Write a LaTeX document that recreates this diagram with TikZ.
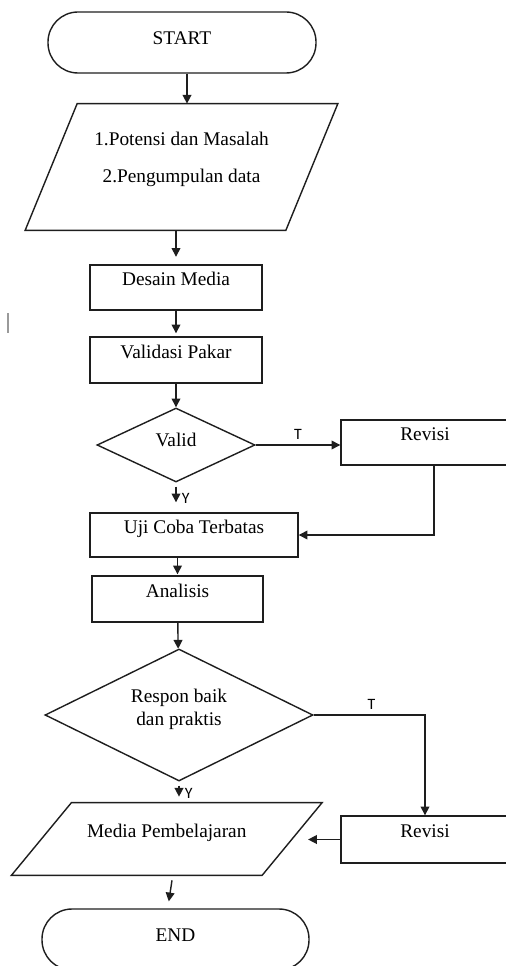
\documentclass[tikz,border=0pt]{standalone}
\usepackage{fontspec}
\setmainfont{Liberation Serif}
\newfontfamily\lblfont{Carlito}
\usepackage{tikz}
\usetikzlibrary{arrows.meta,shapes.geometric,calc}
\definecolor{fline}{HTML}{1E1E1E}
\definecolor{fmark}{HTML}{9A9A9A}
\tikzset{
  procbox/.style={draw=fline,line width=0.8pt,minimum height=0.9cm,
                  text height=0.7em,text depth=0.9em,inner sep=2pt},
  termbox/.style={draw=fline,line width=0.8pt,rounded corners=0.6cm,
                  minimum height=1.22cm,text height=0.7em,text depth=0.5em},
  decbox/.style={draw=fline,line width=0.8pt,diamond,aspect=2,inner sep=0pt},
  iobox/.style={inner sep=0pt,align=center},
  iodraw/.style={draw=fline,line width=0.8pt},
  flowarr/.style={draw=fline,line width=0.8pt,-{Triangle[length=5pt,width=5pt]}},
  ynlabel/.style={font=\lblfont\fontsize{9}{10}\selectfont,inner sep=1pt}
}

\begin{document}
\begin{tikzpicture}[font=\fontsize{11}{13.2}\selectfont]

      \useasboundingbox (0,0) rectangle (10.1,-19.32);

      % start
      \node[termbox,minimum width=5.36cm] (start) at (3.64,-0.85) {START};

      % potensi / pengumpulan data (parallelogram)
      \node[iobox,minimum width=5.2cm,minimum height=2.52cm] (ideas) at (3.63,-3.34)
        {1.Potensi dan Masalah\\[8pt]2.Pengumpulan data\\[-2pt]\mbox{}};
      \draw[iodraw] ([xshift=0.52cm]ideas.north west) -- ([xshift=0.52cm]ideas.north east)
        -- ([xshift=-0.52cm]ideas.south east) -- ([xshift=-0.52cm]ideas.south west) -- cycle;

      % stray cursor mark
      \draw[fmark,line width=0.6pt] (0.16,-6.26) -- (0.16,-6.66);

      % steps
      \node[procbox,minimum width=3.44cm] (desain) at (3.52,-5.75) {Desain Media};
      \node[procbox,minimum width=3.44cm,minimum height=0.92cm] (validasi) at (3.52,-7.2) {Validasi Pakar};
      \node[decbox,minimum width=3.16cm,minimum height=1.48cm,
            text height=0.7em,text depth=0.5em] (valid) at (3.52,-8.9) {Valid};
      \node[procbox,minimum width=3.36cm] (rev1) at (8.5,-8.85) {Revisi};
      \node[procbox,minimum width=4.16cm,minimum height=0.88cm] (uji) at (3.88,-10.7) {Uji Coba Terbatas};
      \node[procbox,minimum width=3.42cm,minimum height=0.92cm] (analisis) at (3.55,-11.98) {Analisis};
      \node[decbox,minimum width=5.36cm,minimum height=2.64cm,align=center] (respon) at (3.58,-14.3)
        {Respon baik\\dan praktis\\[-4pt]\mbox{}};
      \node[procbox,minimum width=3.36cm,minimum height=0.94cm] (rev2) at (8.5,-16.79) {Revisi};

      % media pembelajaran (parallelogram)
      \node[iobox,minimum width=5.0cm,minimum height=1.44cm,
            text height=0.7em,text depth=0.9em] (media) at (3.335,-16.78) {Media Pembelajaran};
      \draw[iodraw] ([xshift=0.6cm]media.north west) -- ([xshift=0.6cm]media.north east)
        -- ([xshift=-0.6cm]media.south east) -- ([xshift=-0.6cm]media.south west) -- cycle;

      % end
      \node[termbox,minimum width=5.34cm] (end) at (3.51,-18.79) {END};

      % arrows
      \draw[flowarr] ([xshift=1mm]start.south) -- ([xshift=1mm]start.south |- ideas.north);
      \draw[flowarr,shorten >=0.15cm] (ideas.south -| desain.north) -- (desain.north);
      \draw[flowarr,shorten >=0.06cm] (desain) -- (validasi);
      \draw[flowarr] (validasi) -- (valid);
      \draw[flowarr] (valid.east) -- (valid.east -| rev1.west)
        node[ynlabel,midway,above=2pt] {T};
      \draw[flowarr,shorten <=0.08cm,shorten >=0.2cm] (valid.south) -- (valid.south |- uji.north)
        node[ynlabel,pos=0.52,right=2pt] {Y};
      \draw[flowarr] ([xshift=0.18cm]rev1.south) |- (uji.east);
      \draw[flowarr,shorten >=0.02cm] (uji.south -| analisis.north) -- (analisis.north);
      \draw[flowarr] (analisis) -- (respon);
      \draw[flowarr] (respon.east) -| (rev2.north)
        node[ynlabel,pos=0.26,above=2pt] {T};
      \draw[flowarr,shorten <=0.08cm,shorten >=0.12cm] (respon.south) -- (respon.south |- media.north)
        node[ynlabel,pos=0.55,right=2pt] {Y};
      \draw[flowarr,shorten >=0.32cm] (rev2.west) -- (rev2.west -| media.east);
      \draw[flowarr,shorten <=0.1cm,shorten >=0.14cm] ([xshift=0.12cm]media.south)
        -- ([xshift=0.02cm]media.south |- end.north);

    \end{tikzpicture}
\end{document}
